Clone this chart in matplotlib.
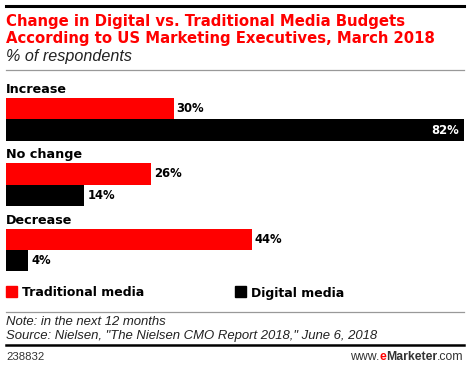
import matplotlib.pyplot as plt

W, H = 470, 368

categories = ["Increase", "No change", "Decrease"]
traditional = [30, 26, 44]
digital = [82, 14, 4]
series_names = ["Traditional media", "Digital media"]

RED = "#ff0000"
BLACK = "#000000"
BOLD = "DejaVu Sans"
ITAL = "Liberation Sans"

fig = plt.figure(figsize=(W / 100, H / 100), dpi=100)


def fy(py):
    # pixel row from the top -> figure fraction
    return 1 - py / H


def fx(px):
    return px / W


# rules
fig.add_artist(plt.Line2D([fx(6), fx(464)], [fy(6), fy(6)], color="black", lw=2.2))
fig.add_artist(plt.Line2D([fx(6), fx(464)], [fy(70), fy(70)], color="#999999", lw=0.9))
fig.add_artist(plt.Line2D([fx(6), fx(464)], [fy(312), fy(312)], color="#999999", lw=0.9))
fig.add_artist(plt.Line2D([fx(6), fx(464)], [fy(345), fy(345)], color="black", lw=1.8))

# title
fig.text(fx(6), fy(26), "Change in Digital vs. Traditional Media Budgets",
         color=RED, fontsize=10.7, fontweight="bold", family=BOLD)
fig.text(fx(6), fy(43), "According to US Marketing Executives, March 2018",
         color=RED, fontsize=10.7, fontweight="bold", family=BOLD)
fig.text(fx(6), fy(61), "% of respondents", color="#222222", fontsize=11.6,
         style="italic", family=ITAL)

# bars axis: y units are pixel rows
top, bottom = 80, 276
ax = fig.add_axes([fx(6), fy(bottom), fx(464) - fx(6), (bottom - top) / H])
ax.set_xlim(0, max(digital))
ax.set_ylim(bottom, top)
ax.axis("off")

step = 65.3
bar_h = 21.4
for i, cat in enumerate(categories):
    red_c = 108.6 + step * i
    blk_c = red_c + bar_h
    ax.text(0, red_c - 15.5, cat, fontsize=9.2, fontweight="bold", family=BOLD,
            va="baseline", ha="left")
    ax.barh(red_c, traditional[i], height=bar_h, color=RED, edgecolor="none")
    ax.barh(blk_c, digital[i], height=bar_h, color=BLACK, edgecolor="none")
    ax.annotate(f"{traditional[i]}%", (traditional[i], red_c), xytext=(3, 0),
                textcoords="offset pixels", va="center", ha="left",
                fontsize=8.4, fontweight="bold", family=BOLD)
    if digital[i] > 70:
        ax.annotate(f"{digital[i]}%", (digital[i], blk_c), xytext=(-5, 0),
                    textcoords="offset pixels", va="center", ha="right",
                    fontsize=8.4, fontweight="bold", family=BOLD, color="white")
    else:
        ax.annotate(f"{digital[i]}%", (digital[i], blk_c), xytext=(3, 0),
                    textcoords="offset pixels", va="center", ha="left",
                    fontsize=8.4, fontweight="bold", family=BOLD)

# legend
for x0, name, col in [(6, series_names[0], RED), (235, series_names[1], BLACK)]:
    fig.add_artist(plt.Rectangle((fx(x0), fy(297)), fx(11), 11 / H,
                                 color=col, transform=fig.transFigure))
    fig.text(fx(x0 + 16), fy(296.5), name, fontsize=9.0, fontweight="bold",
             family=BOLD)

# notes
fig.text(fx(6), fy(325), "Note: in the next 12 months", fontsize=9.45,
         style="italic", family=ITAL, color="#222222")
fig.text(fx(6), fy(338.5), 'Source: Nielsen, "The Nielsen CMO Report 2018," June 6, 2018',
         fontsize=9.45, style="italic", family=ITAL, color="#222222")
fig.text(fx(6), fy(359.5), "238832", fontsize=8.2, family=ITAL, color="#333333")

# eMarketer logo text, right aligned
parts = [("www.", "#333333", "normal"), ("e", RED, "bold"),
         ("Marketer", "#333333", "bold"), (".com", "#333333", "normal")]
fig.canvas.draw()
renderer = fig.canvas.get_renderer()
texts = []
for s, c, w in parts:
    t = fig.text(0, fy(359.5), s, fontsize=8.8, family=ITAL,
                 color=c, fontweight=w)
    texts.append(t)
widths = [t.get_window_extent(renderer).width for t in texts]
x = 464 - sum(widths)
for t, w in zip(texts, widths):
    t.set_x(fx(x))
    x += w

fig.savefig("out.png", dpi=100)
